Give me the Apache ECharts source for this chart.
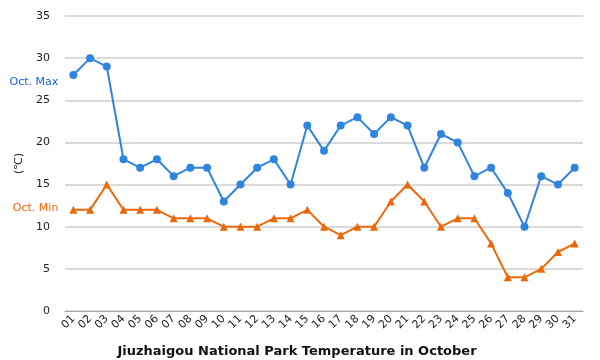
<!DOCTYPE html>
<html><head><meta charset="utf-8">
<script src="https://cdn.jsdelivr.net/npm/echarts@6/dist/echarts.min.js"></script>
<style>html,body{margin:0;padding:0;background:#fff}#c{width:600px;height:360px}</style>
</head><body><div id="c"></div>
<script>
const days = ['01','02','03','04','05','06','07','08','09','10','11','12','13','14','15','16','17','18','19','20','21','22','23','24','25','26','27','28','29','30','31'];
const maxTemps = [28,30,29,18,17,18,16,17,17,13,15,17,18,15,22,19,22,23,21,23,22,17,21,20,16,17,14,10,16,15,17];
const minTemps = [12,12,15,12,12,12,11,11,11,10,10,10,11,11,12,10,9,10,10,13,15,13,10,11,11,8,4,4,5,7,8];
const yTicks = {min:0, max:35, interval:5};

function withFirstLabel(arr, text, color, off){
  return arr.map((v,i)=> i===0 ? {value:v, label:{show:true, position:'left', distance:11, offset:off, formatter:text, color:color, fontSize:11, fontWeight:'normal', fontFamily:'DejaVu Sans'}} : v);
}
const chart = echarts.init(document.getElementById('c'));
chart.setOption({
  animation:false,
  title:{text:'Jiuzhaigou National Park Temperature in October', left:292, top:340, textAlign:'center',
    textStyle:{fontSize:13, fontWeight:'bold', color:'#111', fontFamily:'DejaVu Sans'}},
  grid:{left:65, right:17, top:16, bottom:49},
  xAxis:{type:'category', data:days, boundaryGap:true,
    axisLine:{lineStyle:{color:'#aaa'}}, axisTick:{lineStyle:{color:'#aaa'}, length:6},
    axisLabel:{rotate:45, color:'#222', fontSize:11, fontFamily:'DejaVu Sans', margin:6, interval:0}},
  yAxis:{type:'value', min:yTicks.min, max:yTicks.max, interval:yTicks.interval,
    name:'(℃)', nameLocation:'middle', nameGap:32, nameRotate:90,
    nameTextStyle:{color:'#222', fontSize:11, fontFamily:'DejaVu Sans'},
    axisLine:{show:false}, axisTick:{show:false},
    axisLabel:{color:'#222', fontSize:11, fontFamily:'DejaVu Sans', margin:15},
    splitLine:{lineStyle:{color:'#dadada', width:2}}},
  series:[
    {name:'Oct. Max', type:'line', data:withFirstLabel(maxTemps,'Oct. Max','#1a5fe0',[0,7]),
      symbol:'circle', symbolSize:8, itemStyle:{color:'#2f84de'}, lineStyle:{color:'#2f84de', width:2}},
    {name:'Oct. Min', type:'line', data:withFirstLabel(minTemps,'Oct. Min','#f0620c',[0,-2]),
      symbol:'triangle', symbolSize:8, itemStyle:{color:'#e8680c'}, lineStyle:{color:'#ec6a0b', width:2}}
  ]
});
</script></body></html>
